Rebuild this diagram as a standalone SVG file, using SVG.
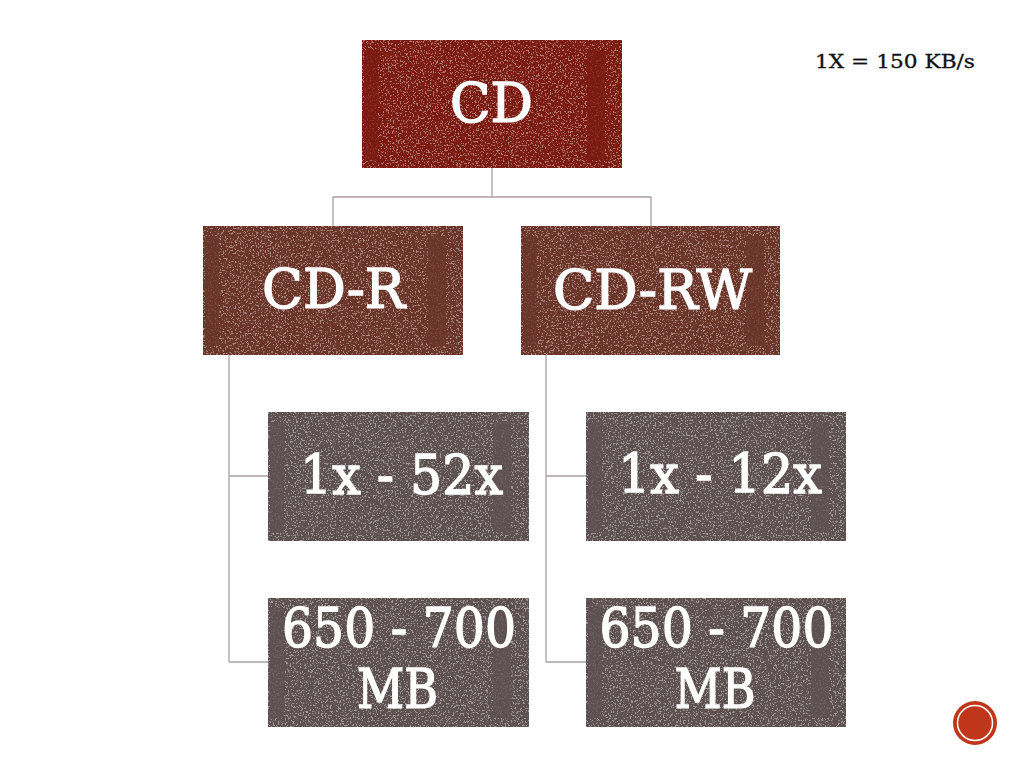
<svg xmlns="http://www.w3.org/2000/svg" width="1024" height="768" viewBox="0 0 1024 768">
  <style>
    .lbl { font-family: "DejaVu Serif", "Liberation Serif", serif; font-size: 54px; fill: #ffffff; stroke: #ffffff; stroke-width: 1.4; text-anchor: middle; }
    .note { font-family: "DejaVu Serif", "Liberation Serif", serif; font-size: 19px; fill: #111111; stroke: #111111; stroke-width: 0.3; }
    .conn { fill: none; stroke: #aaa0a0; stroke-width: 1.3; }
    .speck { fill: #ffffff; opacity: 0.42; }
    .red { fill: #7a1a10; }
    .brown { fill: #6a3429; }
    .grey { fill: #5c5050; }
    .band { opacity: 0.75; }
  </style>
  <defs>
    <filter id="grunge" x="0" y="0" width="100%" height="100%">
      <feTurbulence type="fractalNoise" baseFrequency="0.6" numOctaves="3" seed="7" result="n"/>
      <feColorMatrix in="n" type="matrix" values="0 0 0 0 1  0 0 0 0 1  0 0 0 0 1  10 0 0 0 -5.6" result="s"/>
      <feComposite in="s" in2="SourceGraphic" operator="in"/>
    </filter>
  </defs>
  <rect x="0" y="0" width="1024" height="768" fill="#ffffff"/>

  <g id="connectors">
    <path class="conn" d="M492 168 V197 M333 226 V197 H651 V226"/>
    <path class="conn" d="M229 355 V662 M229 476 H268 M229 662 H268"/>
    <path class="conn" d="M546 355 V662 M546 476 H586 M546 662 H586"/>
  </g>

  <g id="cd">
    <rect class="red" x="362" y="40" width="260" height="128"/>
    <rect class="speck" x="362" y="40" width="260" height="128" filter="url(#grunge)"/>
    <rect class="red band" x="364" y="50" width="14" height="110"/>
    <rect class="red band" x="587" y="50" width="18" height="110"/>
    <text class="lbl" x="491.5" y="122" textLength="83" lengthAdjust="spacingAndGlyphs">CD</text>
  </g>

  <g id="cdr">
    <rect class="brown" x="203" y="226" width="260" height="129"/>
    <rect class="speck" x="203" y="226" width="260" height="129" filter="url(#grunge)"/>
    <rect class="brown band" x="205" y="236" width="14" height="110"/>
    <rect class="brown band" x="428" y="236" width="18" height="110"/>
    <text class="lbl" x="333.5" y="308" textLength="143" lengthAdjust="spacingAndGlyphs">CD-R</text>
  </g>

  <g id="cdrw">
    <rect class="brown" x="521" y="226" width="259" height="129"/>
    <rect class="speck" x="521" y="226" width="259" height="129" filter="url(#grunge)"/>
    <rect class="brown band" x="523" y="236" width="14" height="110"/>
    <rect class="brown band" x="746" y="236" width="18" height="110"/>
    <text class="lbl" x="652.5" y="309" textLength="199" lengthAdjust="spacingAndGlyphs">CD-RW</text>
  </g>

  <g id="cdr-speed">
    <rect class="grey" x="268" y="412" width="261" height="129"/>
    <rect class="speck" x="268" y="412" width="261" height="129" filter="url(#grunge)"/>
    <rect class="grey band" x="270" y="422" width="14" height="110"/>
    <rect class="grey band" x="493" y="422" width="18" height="110"/>
    <text class="lbl" x="401.5" y="494" textLength="203" lengthAdjust="spacingAndGlyphs">1x - 52x</text>
  </g>

  <g id="cdr-size">
    <rect class="grey" x="268" y="598" width="261" height="129"/>
    <rect class="speck" x="268" y="598" width="261" height="129" filter="url(#grunge)"/>
    <rect class="grey band" x="270" y="608" width="14" height="110"/>
    <rect class="grey band" x="493" y="608" width="18" height="110"/>
    <text class="lbl" x="399" y="647" textLength="234" lengthAdjust="spacingAndGlyphs">650 - 700</text>
    <text class="lbl" x="397.5" y="708" textLength="81" lengthAdjust="spacingAndGlyphs">MB</text>
  </g>

  <g id="cdrw-speed">
    <rect class="grey" x="586" y="412" width="260" height="129"/>
    <rect class="speck" x="586" y="412" width="260" height="129" filter="url(#grunge)"/>
    <rect class="grey band" x="588" y="422" width="14" height="110"/>
    <rect class="grey band" x="811" y="422" width="18" height="110"/>
    <text class="lbl" x="720" y="493" textLength="204" lengthAdjust="spacingAndGlyphs">1x - 12x</text>
  </g>

  <g id="cdrw-size">
    <rect class="grey" x="586" y="598" width="260" height="129"/>
    <rect class="speck" x="586" y="598" width="260" height="129" filter="url(#grunge)"/>
    <rect class="grey band" x="588" y="608" width="14" height="110"/>
    <rect class="grey band" x="811" y="608" width="18" height="110"/>
    <text class="lbl" x="716.5" y="647" textLength="234" lengthAdjust="spacingAndGlyphs">650 - 700</text>
    <text class="lbl" x="715" y="708" textLength="81" lengthAdjust="spacingAndGlyphs">MB</text>
  </g>

  <g id="note">
    <text class="note" x="815" y="68" textLength="160" lengthAdjust="spacingAndGlyphs">1X = 150 KB/s</text>
  </g>

  <g id="badge">
    <circle cx="975" cy="723" r="22" fill="#c0361a"/>
    <circle cx="975" cy="723" r="17.5" fill="none" stroke="#ffffff" stroke-width="1.5"/>
  </g>
</svg>
